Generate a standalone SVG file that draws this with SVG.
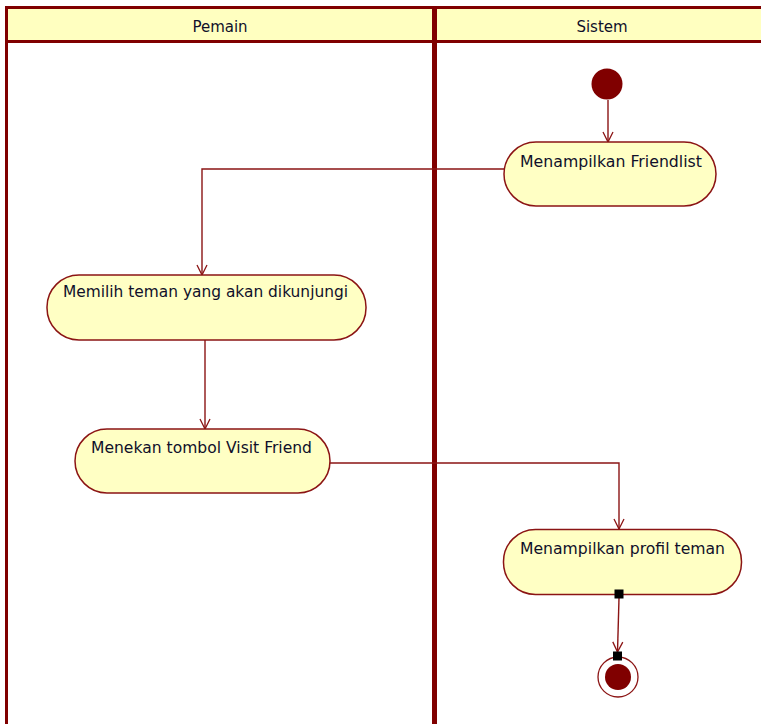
<svg xmlns="http://www.w3.org/2000/svg" width="761" height="724" viewBox="0 0 761 724">
  <defs>
    <style>
      .lane-head { fill: #ffffc0; stroke: none; }
      .lane-line { stroke: #800000; fill: none; }
      .action { fill: #ffffc4; stroke: #8b1414; stroke-width: 1.5; }
      .label { font-family: "DejaVu Sans", "Liberation Sans", sans-serif; font-size: 15.5px; fill: #10102a; }
      .head-label { font-family: "DejaVu Sans", "Liberation Sans", sans-serif; font-size: 15px; fill: #10102a; text-anchor: middle; }
      .flow { stroke: #8b1414; stroke-width: 1.4; fill: none; marker-end: url(#open-arrow); }
      .pin { fill: #000000; }
    </style>
    <marker id="open-arrow" viewBox="0 0 12 12" refX="11" refY="6" markerWidth="12" markerHeight="12" markerUnits="userSpaceOnUse" orient="auto">
      <path d="M1,1 L11,6 L1,11" fill="none" stroke="#8b1414" stroke-width="1.3"/>
    </marker>
  </defs>

  <rect width="761" height="724" fill="#ffffff"/>

  <!-- swimlanes -->
  <g id="lanes">
    <rect class="lane-head" x="6" y="8" width="760" height="33"/>
    <line class="lane-line" x1="5" y1="7.5" x2="761" y2="7.5" stroke-width="3"/>
    <line class="lane-line" x1="5" y1="41.5" x2="761" y2="41.5" stroke-width="3"/>
    <line class="lane-line" x1="6.5" y1="6" x2="6.5" y2="724" stroke-width="3"/>
    <line class="lane-line" x1="434.5" y1="6" x2="434.5" y2="724" stroke-width="5"/>
    <text class="head-label" x="220" y="32">Pemain</text>
    <text class="head-label" x="602" y="32">Sistem</text>
  </g>

  <!-- control flow -->
  <g id="connectors">
    <path class="flow" d="M608,100 L608,142"/>
    <path class="flow" d="M504,169 L202,169 L202,275"/>
    <path class="flow" d="M205,340 L205,429"/>
    <path class="flow" d="M330,463 L619,463 L619,529"/>
    <path class="flow" d="M619,598 L617.5,652"/>
  </g>

  <g id="start">
    <circle cx="607" cy="84" r="15.5" fill="#800000"/>
  </g>

  <g id="act-friendlist">
    <rect class="action" x="504" y="142" width="212" height="64" rx="32" ry="32"/>
    <text class="label" x="611" y="167" text-anchor="middle" textLength="182" lengthAdjust="spacingAndGlyphs">Menampilkan Friendlist</text>
  </g>

  <g id="act-pilih-teman">
    <rect class="action" x="47" y="275" width="319" height="65" rx="32" ry="32"/>
    <text class="label" x="205.5" y="297" text-anchor="middle" textLength="285" lengthAdjust="spacingAndGlyphs">Memilih teman yang akan dikunjungi</text>
  </g>

  <g id="act-visit">
    <rect class="action" x="75" y="429" width="255" height="64" rx="32" ry="32"/>
    <text class="label" x="201.5" y="453" text-anchor="middle" textLength="221" lengthAdjust="spacingAndGlyphs">Menekan tombol Visit Friend</text>
  </g>

  <g id="act-profil">
    <rect class="action" x="503.5" y="529.5" width="238" height="65" rx="32" ry="32"/>
    <text class="label" x="622.5" y="554" text-anchor="middle" textLength="205" lengthAdjust="spacingAndGlyphs">Menampilkan profil teman</text>
  </g>

  <g id="end">
    <circle cx="618" cy="677" r="20" fill="#ffffff" stroke="#8b1414" stroke-width="1.3"/>
    <circle cx="618" cy="677" r="13" fill="#800000"/>
  </g>

  <!-- flow end points on the last transition -->
  <g id="pins">
    <rect class="pin" x="614.5" y="589.5" width="9" height="9"/>
    <rect class="pin" x="613" y="651.5" width="9" height="9"/>
  </g>
</svg>
